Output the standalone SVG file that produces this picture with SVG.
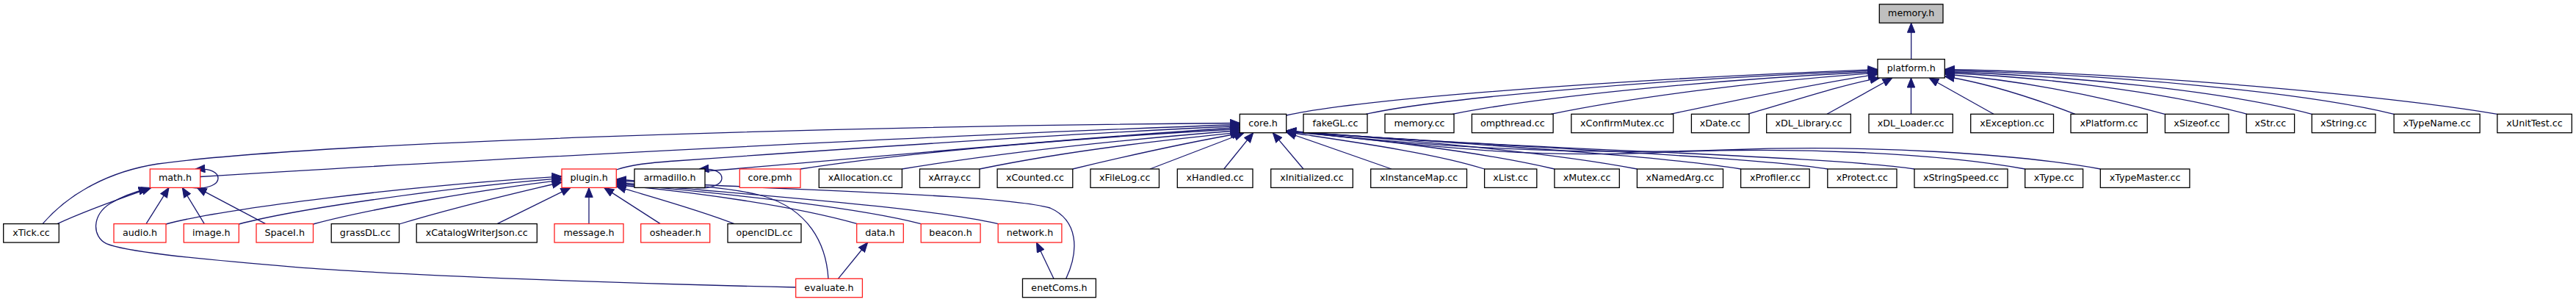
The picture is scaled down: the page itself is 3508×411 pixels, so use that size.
<svg xmlns="http://www.w3.org/2000/svg" width="3508" height="411" viewBox="0 0 3508 411">
<style>
.n rect{fill:#ffffff;stroke:#000000;stroke-width:1.3}
.r rect{stroke:#ff2020}
.g rect{fill:#bfbfbf}
text{font-family:"DejaVu Sans","Liberation Sans",sans-serif;font-size:12.7px;fill:#000;text-anchor:middle}
#edges path{fill:none;stroke:#191970;stroke-width:1.3;marker-end:url(#a)}
</style>
<defs>
<marker id="a" markerUnits="userSpaceOnUse" viewBox="0 0 13.5 11.5" markerWidth="13.5" markerHeight="11.5" refX="13.5" refY="5.75" orient="auto">
<path d="M0.5,0.5 L13.5,5.75 L0.5,11 z" fill="#191970" stroke="#191970" stroke-width="1"/>
</marker>
</defs>
<rect width="3508" height="411" fill="#ffffff"/>
<g id="edges">
<path d="M2602.7,80.6 L2602.7,31.2"/>
<path d="M1751.7,157 C1850,135 2200,108 2557,94.5"/>
<path d="M1860,155.3 C1950,135 2250,108 2557,96"/>
<path d="M1978,155.3 C2080,135 2300,110 2557,97.5"/>
<path d="M2112,155.3 C2220,133 2380,112 2557,99"/>
<path d="M2275,155.3 C2370,135 2470,114 2557,101"/>
<path d="M2380,155.3 C2450,135 2510,115 2560,106"/>
<path d="M2488,155.3 L2577,106"/>
<path d="M2602.5,155.3 L2602.5,106"/>
<path d="M2715,155.3 L2627,106"/>
<path d="M2826,155.3 C2760,130 2700,112 2648.3,104"/>
<path d="M2948,155.3 C2850,128 2740,108 2648.3,101"/>
<path d="M3060,155.3 C2950,125 2780,105 2648.3,99"/>
<path d="M3148.3,155.3 C3030,124 2820,103 2648.3,97.5"/>
<path d="M3260.1,155.3 C3140,126 2880,101 2648.3,96"/>
<path d="M3400.8,155.3 C3280,135 2950,100 2648.3,94.5"/>
<path d="M58,304.6 C95,262 150,233 215,223 C420,195 1100,172 1688.3,167.5"/>
<path d="M272.7,240.5 C600,220 1300,183 1688.3,169.5"/>
<path d="M839.3,231 C860,224 880,222 920,219 C1200,199 1500,180 1688.3,171.5"/>
<path d="M960,233 C1150,218 1450,188 1688.3,173.5"/>
<path d="M1090,230 C1250,205 1500,186 1688.3,175.5"/>
<path d="M1228.4,230 C1400,202 1580,186 1688.3,177.5"/>
<path d="M1334,230 C1470,202 1620,187 1689,180"/>
<path d="M1460.8,230 C1560,206 1640,190 1691,181"/>
<path d="M1566,230 L1694,181"/>
<path d="M1666.7,230 L1706.7,180.7"/>
<path d="M1775,230 L1733.3,180.7"/>
<path d="M1895,230 L1751.7,180"/>
<path d="M2021.6,230 C1950,207 1820,190 1751.7,179.5"/>
<path d="M2116.9,230 C2000,203 1850,188 1751.7,179"/>
<path d="M2229.4,230 C2100,205 1900,189 1751.7,178.5"/>
<path d="M2370.6,230 C2250,210 1950,193 1751.7,178.5"/>
<path d="M2488.8,230 C2380,212 2000,198 1751.7,178"/>
<path d="M2607,230 C2480,211 2050,203 1751.7,178"/>
<path d="M2757.7,230 C2650,210 2450,198 2250,208 C2050,216 1900,193 1751.7,178"/>
<path d="M2860.3,230 C2750,210 2550,196 2350,204 C2100,213 1900,194 1751.7,178"/>
<path d="M262,255.4 C285,258 297,250 297,242.7 C297,235 288,229 266,230"/>
<path d="M78,304.6 C120,285 170,268 206,255.4"/>
<path d="M199,304.6 L230,255.4"/>
<path d="M278.3,304.6 L248.3,255.4"/>
<path d="M361.7,304.6 L268.3,255.4"/>
<path d="M1083.7,391 C850,386 550,375 400,363.3 C250,351 170,342 145,331.7 C125,322 125,292 150,277 C165,268 180,262 202,256.5"/>
<path d="M226,305 C300,285 550,253 765,240"/>
<path d="M325.3,305 C400,285 600,256 765,242.5"/>
<path d="M426.5,305 C500,285 650,259 765,245"/>
<path d="M543.6,305 C620,282 700,263 765,248"/>
<path d="M677,304.6 L777,255.4"/>
<path d="M802,304.6 L802,255.4"/>
<path d="M899.3,304.6 L822.7,255.4"/>
<path d="M1000,304.6 C950,285 880,266 839.3,253.5"/>
<path d="M1167.5,304.6 C1080,280 950,262 839.3,251.5"/>
<path d="M1254.2,304.6 C1150,278 960,262 839.3,249.5"/>
<path d="M1359.2,304.6 C1250,280 1000,264 839.3,248"/>
<path d="M1128,379.3 C1125,330 1100,285 1040,267 C990,253 900,249 839.3,246"/>
<path d="M1451.7,379.3 C1470,340 1468,300 1430,283 C1350,262 1000,258 839.3,244"/>
<path d="M1141.4,379.3 L1181.6,330"/>
<path d="M1435,379.3 L1411.5,330"/>
<path d="M945,255.4 C970,258 983,250 983,242.7 C983,235 975,229 952,230"/>
</g>
<g id="memory_h" class="n g"><rect x="2559.3" y="5.8" width="86.7" height="25.4"/><text x="2602.7" y="22.1">memory.h</text></g>
<g id="platform_h" class="n"><rect x="2557" y="80.6" width="91.3" height="25.4"/><text x="2602.7" y="96.9">platform.h</text></g>
<g id="core_h" class="n"><rect x="1688.3" y="155.3" width="63.4" height="25.4"/><text x="1720" y="171.6">core.h</text></g>
<g id="fakeGL_cc" class="n"><rect x="1775" y="155.3" width="87" height="25.4"/><text x="1818.5" y="171.6">fakeGL.cc</text></g>
<g id="memory_cc" class="n"><rect x="1886" y="155.3" width="94" height="25.4"/><text x="1933" y="171.6">memory.cc</text></g>
<g id="ompthread_cc" class="n"><rect x="2004.4" y="155.3" width="110.7" height="25.4"/><text x="2059.8" y="171.6">ompthread.cc</text></g>
<g id="xConfirmMutex_cc" class="n"><rect x="2139.8" y="155.3" width="138.9" height="25.4"/><text x="2209.3" y="171.6">xConfirmMutex.cc</text></g>
<g id="xDate_cc" class="n"><rect x="2303.4" y="155.3" width="78.6" height="25.4"/><text x="2342.7" y="171.6">xDate.cc</text></g>
<g id="xDL_Library_cc" class="n"><rect x="2405.7" y="155.3" width="114.6" height="25.4"/><text x="2463" y="171.6">xDL_Library.cc</text></g>
<g id="xDL_Loader_cc" class="n"><rect x="2545" y="155.3" width="114.3" height="25.4"/><text x="2602.2" y="171.6">xDL_Loader.cc</text></g>
<g id="xException_cc" class="n"><rect x="2683.7" y="155.3" width="112.8" height="25.4"/><text x="2740.1" y="171.6">xException.cc</text></g>
<g id="xPlatform_cc" class="n"><rect x="2820" y="155.3" width="104.2" height="25.4"/><text x="2872.1" y="171.6">xPlatform.cc</text></g>
<g id="xSizeof_cc" class="n"><rect x="2948.4" y="155.3" width="86.6" height="25.4"/><text x="2991.7" y="171.6">xSizeof.cc</text></g>
<g id="xStr_cc" class="n"><rect x="3059.2" y="155.3" width="65.4" height="25.4"/><text x="3091.9" y="171.6">xStr.cc</text></g>
<g id="xString_cc" class="n"><rect x="3148.3" y="155.3" width="86.6" height="25.4"/><text x="3191.6" y="171.6">xString.cc</text></g>
<g id="xTypeName_cc" class="n"><rect x="3260.1" y="155.3" width="117" height="25.4"/><text x="3318.6" y="171.6">xTypeName.cc</text></g>
<g id="xUnitTest_cc" class="n"><rect x="3400.8" y="155.3" width="101.5" height="25.4"/><text x="3451.5" y="171.6">xUnitTest.cc</text></g>
<g id="math_h" class="n r"><rect x="204.3" y="230" width="68.4" height="25.4"/><text x="238.5" y="246.3">math.h</text></g>
<g id="plugin_h" class="n r"><rect x="765" y="230" width="74.3" height="25.4"/><text x="802.1" y="246.3">plugin.h</text></g>
<g id="armadillo_h" class="n"><rect x="864" y="230" width="96" height="25.4"/><text x="912" y="246.3">armadillo.h</text></g>
<g id="core_pmh" class="n r"><rect x="1007.3" y="230" width="82.7" height="25.4"/><text x="1048.6" y="246.3">core.pmh</text></g>
<g id="xAllocation_cc" class="n"><rect x="1115.3" y="230" width="113.1" height="25.4"/><text x="1171.8" y="246.3">xAllocation.cc</text></g>
<g id="xArray_cc" class="n"><rect x="1252.5" y="230" width="81.5" height="25.4"/><text x="1293.2" y="246.3">xArray.cc</text></g>
<g id="xCounted_cc" class="n"><rect x="1358.1" y="230" width="102.7" height="25.4"/><text x="1409.4" y="246.3">xCounted.cc</text></g>
<g id="xFileLog_cc" class="n"><rect x="1485" y="230" width="93.5" height="25.4"/><text x="1531.7" y="246.3">xFileLog.cc</text></g>
<g id="xHandled_cc" class="n"><rect x="1603.3" y="230" width="102.7" height="25.4"/><text x="1654.6" y="246.3">xHandled.cc</text></g>
<g id="xInitialized_cc" class="n"><rect x="1730.7" y="230" width="111.6" height="25.4"/><text x="1786.5" y="246.3">xInitialized.cc</text></g>
<g id="xInstanceMap_cc" class="n"><rect x="1866.7" y="230" width="130.8" height="25.4"/><text x="1932.1" y="246.3">xInstanceMap.cc</text></g>
<g id="xList_cc" class="n"><rect x="2021.6" y="230" width="71.2" height="25.4"/><text x="2057.2" y="246.3">xList.cc</text></g>
<g id="xMutex_cc" class="n"><rect x="2116.9" y="230" width="88.4" height="25.4"/><text x="2161.1" y="246.3">xMutex.cc</text></g>
<g id="xNamedArg_cc" class="n"><rect x="2229.4" y="230" width="117.1" height="25.4"/><text x="2287.9" y="246.3">xNamedArg.cc</text></g>
<g id="xProfiler_cc" class="n"><rect x="2370.6" y="230" width="93.6" height="25.4"/><text x="2417.4" y="246.3">xProfiler.cc</text></g>
<g id="xProtect_cc" class="n"><rect x="2488.8" y="230" width="94.2" height="25.4"/><text x="2535.9" y="246.3">xProtect.cc</text></g>
<g id="xStringSpeed_cc" class="n"><rect x="2607" y="230" width="127" height="25.4"/><text x="2670.5" y="246.3">xStringSpeed.cc</text></g>
<g id="xType_cc" class="n"><rect x="2757.7" y="230" width="78.9" height="25.4"/><text x="2797.1" y="246.3">xType.cc</text></g>
<g id="xTypeMaster_cc" class="n"><rect x="2860.3" y="230" width="121.6" height="25.4"/><text x="2921.1" y="246.3">xTypeMaster.cc</text></g>
<g id="xTick_cc" class="n"><rect x="4.7" y="304.6" width="75.6" height="25.4"/><text x="42.5" y="320.9">xTick.cc</text></g>
<g id="audio_h" class="n r"><rect x="155" y="304.6" width="71" height="25.4"/><text x="190.5" y="320.9">audio.h</text></g>
<g id="image_h" class="n r"><rect x="250.3" y="304.6" width="75" height="25.4"/><text x="287.8" y="320.9">image.h</text></g>
<g id="SpaceI_h" class="n r"><rect x="349" y="304.6" width="77.5" height="25.4"/><text x="387.7" y="320.9">SpaceI.h</text></g>
<g id="grassDL_cc" class="n"><rect x="451.2" y="304.6" width="92.4" height="25.4"/><text x="497.4" y="320.9">grassDL.cc</text></g>
<g id="xCatalogWriterJson_cc" class="n"><rect x="567.2" y="304.6" width="164.1" height="25.4"/><text x="649.2" y="320.9">xCatalogWriterJson.cc</text></g>
<g id="message_h" class="n r"><rect x="755" y="304.6" width="94" height="25.4"/><text x="802" y="320.9">message.h</text></g>
<g id="osheader_h" class="n r"><rect x="872.7" y="304.6" width="94" height="25.4"/><text x="919.7" y="320.9">osheader.h</text></g>
<g id="openclDL_cc" class="n"><rect x="991" y="304.6" width="100" height="25.4"/><text x="1041" y="320.9">openclDL.cc</text></g>
<g id="data_h" class="n r"><rect x="1166.7" y="304.6" width="63.6" height="25.4"/><text x="1198.5" y="320.9">data.h</text></g>
<g id="beacon_h" class="n r"><rect x="1254.2" y="304.6" width="80.9" height="25.4"/><text x="1294.6" y="320.9">beacon.h</text></g>
<g id="network_h" class="n r"><rect x="1359.2" y="304.6" width="86.7" height="25.4"/><text x="1402.5" y="320.9">network.h</text></g>
<g id="evaluate_h" class="n r"><rect x="1083.7" y="379.3" width="90.7" height="25.4"/><text x="1129" y="395.6">evaluate.h</text></g>
<g id="enetComs_h" class="n"><rect x="1392.5" y="379.3" width="99.9" height="25.4"/><text x="1442.5" y="395.6">enetComs.h</text></g>
</svg>
